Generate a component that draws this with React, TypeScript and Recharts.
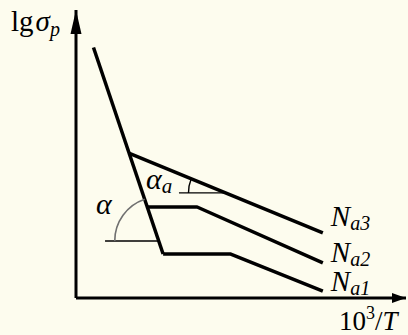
import React from "react";
import { LineChart, Line, XAxis, YAxis, ReferenceLine, ReferenceDot } from "recharts";

type Pt = { x: number; y: number };

// plot units: x = 10^3/T, y = lg σp (schematic, no scale shown)
const steepLine: Pt[] = [
  { x: 0.53, y: 8.7 },
  { x: 2.64, y: 1.53 },
];
const na3Line: Pt[] = [
  { x: 1.6, y: 5.03 },
  { x: 7.48, y: 2.26 },
];
const na2Line: Pt[] = [
  { x: 2.16, y: 3.16 },
  { x: 3.67, y: 3.16 },
  { x: 7.48, y: 1.22 },
];
const na1Line: Pt[] = [
  { x: 2.64, y: 1.53 },
  { x: 4.67, y: 1.53 },
  { x: 7.48, y: 0.24 },
];
const seriesSubs = ["a3", "a2", "a1"];
const labelShift = [-7, -1, 0];

// angle markers
const alphaY = 1.98;
const alphaFrom = 0.88;
const alphaAY = 3.65;
const alphaAFrom = 3.12;

const W = 408;
const H = 335;
const M = { top: 10, right: 2, left: 76, bottom: 37 };
const X_MAX = 10;
const Y_MAX = 10;
const KX = (W - M.left - M.right) / X_MAX;
const KY = (H - M.top - M.bottom) / Y_MAX;

const FONT = "'Liberation Serif', 'Times New Roman', serif";

// x on a straight segment at a given y
const xAt = (line: Pt[], y: number) => {
  const [a, b] = line;
  return a.x + ((y - a.y) * (b.x - a.x)) / (b.y - a.y);
};

// unit vector in screen space pointing from b towards a
const screenDir = (line: Pt[]) => {
  const [a, b] = line;
  const dx = (a.x - b.x) * KX;
  const dy = -(a.y - b.y) * KY;
  const len = Math.hypot(dx, dy);
  return { dx: dx / len, dy: dy / len };
};

const arcShape = (r: number, line: Pt[], color: string, width: number) => (p: any) => {
  const d = screenDir(line);
  const sx = p.cx - r;
  const ex = p.cx + d.dx * r;
  const ey = p.cy + d.dy * r;
  return (
    <path
      d={`M${sx},${p.cy} A${r},${r} 0 0 1 ${ex},${ey}`}
      fill="none"
      stroke={color}
      strokeWidth={width}
    />
  );
};

const NLabel = ({ x, y, sub }: { x: number; y: number; sub: string }) => (
  <text x={x} y={y} fontFamily={FONT} fontStyle="italic" fontSize={29} fill="#000">
    N
    <tspan fontSize={20} dy={4}>
      {sub}
    </tspan>
  </text>
);

const seriesLabel = (data: Pt[], i: number) => (p: any) =>
  p.index === data.length - 1 ? (
    <NLabel key={`n${i}`} x={p.x + 8} y={p.y + labelShift[i]} sub={seriesSubs[i]} />
  ) : null;

const arrowUp = (p: any) => (
  <path d={`M${p.cx},${p.cy} L${p.cx - 5.5},${p.cy + 24} L${p.cx + 5.5},${p.cy + 24} Z`} fill="#000" />
);
const arrowRight = (p: any) => (
  <path d={`M${p.cx},${p.cy} L${p.cx - 14},${p.cy - 5} L${p.cx - 14},${p.cy + 5} Z`} fill="#000" />
);

export default function App() {
  const alphaX = xAt(steepLine, alphaY);
  const alphaAX = xAt(na3Line, alphaAY);
  const lines = [na3Line, na2Line, na1Line];

  return (
    <div style={{ position: "absolute", left: 0, top: 0, width: W, height: H, background: "#fdfcee" }}>
      <LineChart width={W} height={H} margin={M}>
        <XAxis type="number" dataKey="x" domain={[0, X_MAX]} hide />
        <YAxis type="number" dataKey="y" domain={[0, Y_MAX]} hide />

        {/* axes with arrowheads */}
        <ReferenceLine y={0} stroke="#000" strokeWidth={3} ifOverflow="visible" />
        <ReferenceLine x={0} stroke="#000" strokeWidth={3} ifOverflow="visible" />
        <ReferenceDot x={X_MAX} y={0} ifOverflow="visible" shape={arrowRight} />
        <ReferenceDot x={0} y={Y_MAX} ifOverflow="visible" shape={arrowUp} />

        <ReferenceLine
          segment={[
            { x: alphaFrom, y: alphaY },
            { x: alphaX, y: alphaY },
          ]}
          stroke="#000"
          strokeWidth={1.6}
        />
        <ReferenceDot x={alphaX} y={alphaY} ifOverflow="visible" shape={arcShape(44, steepLine, "#707070", 1.6)} />
        <ReferenceLine
          segment={[
            { x: alphaAFrom, y: alphaAY },
            { x: alphaAX, y: alphaAY },
          ]}
          stroke="#000"
          strokeWidth={1.4}
        />
        <ReferenceDot x={alphaAX} y={alphaAY} ifOverflow="visible" shape={arcShape(37, na3Line, "#000", 1.4)} />

        <Line
          data={steepLine}
          dataKey="y"
          type="linear"
          stroke="#000"
          strokeWidth={3.5}
          dot={false}
          isAnimationActive={false}
        />
        {lines.map((data, i) => (
          <Line
            key={seriesSubs[i]}
            data={data}
            dataKey="y"
            type="linear"
            stroke="#000"
            strokeWidth={3.5}
            strokeLinejoin="round"
            dot={false}
            label={seriesLabel(data, i)}
            isAnimationActive={false}
          />
        ))}
      </LineChart>

      <svg
        width={W}
        height={H}
        style={{ position: "absolute", left: 0, top: 0, pointerEvents: "none" }}
      >
        <text x={11} y={31} fontFamily={FONT} fontSize={29} fill="#000">
          lg
          <tspan fontStyle="italic" dx={2}>σ</tspan>
          <tspan fontStyle="italic" fontSize={20} dy={5}>p</tspan>
        </text>
        <text x={339} y={330} fontFamily={FONT} fontSize={27} fill="#000">
          10
          <tspan fontSize={18} dy={-11}>3</tspan>
          <tspan dy={11}>/</tspan>
          <tspan fontStyle="italic">T</tspan>
        </text>
        <text x={96} y={214} fontFamily={FONT} fontStyle="italic" fontSize={30} fill="#000">
          α
        </text>
        <text x={146} y={189} fontFamily={FONT} fontStyle="italic" fontSize={30} fill="#000">
          α<tspan fontSize={21} dy={4}>a</tspan>
        </text>
      </svg>
    </div>
  );
}
